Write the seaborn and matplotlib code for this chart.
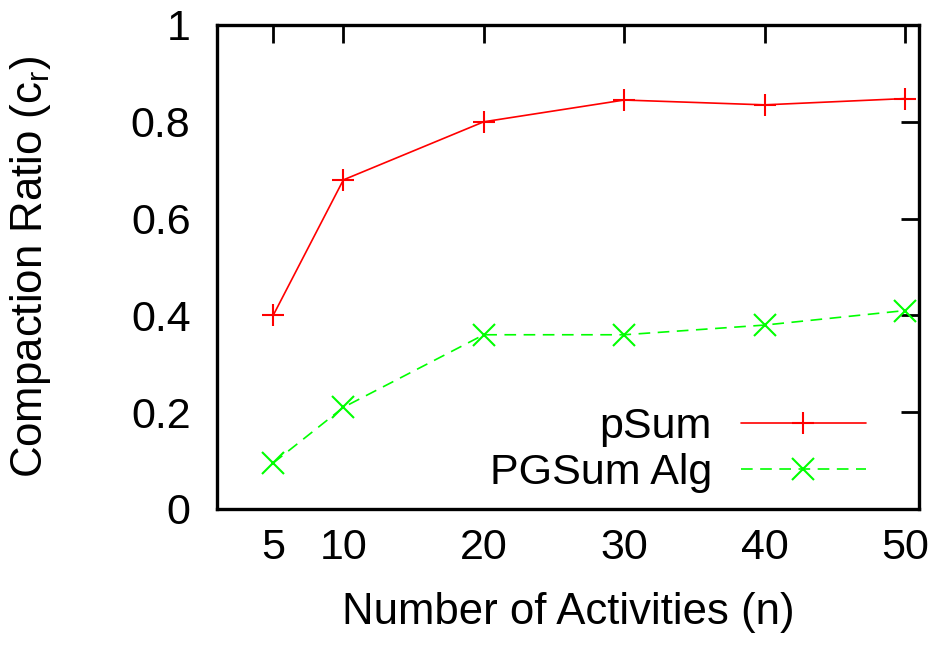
import matplotlib
matplotlib.use("Agg")
import matplotlib.pyplot as plt
import seaborn as sns
import pandas as pd

# Number of activities and the compaction ratio reached by each summariser
activities = [5, 10, 20, 30, 40, 50]
psum_ratio = [0.40, 0.68, 0.80, 0.845, 0.835, 0.848]
pgsum_ratio = [0.095, 0.21, 0.36, 0.36, 0.38, 0.41]
series_names = ["pSum", "PGSum Alg"]
x_ticks = [5, 10, 20, 30, 40, 50]
y_ticks = [0, 0.2, 0.4, 0.6, 0.8, 1.0]
y_tick_labels = ["0", "0.2", "0.4", "0.6", "0.8", "1"]

psum_df = pd.DataFrame({"n": activities, "ratio": psum_ratio})
pgsum_df = pd.DataFrame({"n": activities, "ratio": pgsum_ratio})

sns.set_theme(style="white")
plt.rcParams["font.family"] = ["Liberation Sans", "DejaVu Sans"]
plt.rcParams["text.color"] = "black"
plt.rcParams["mathtext.fontset"] = "custom"
plt.rcParams["mathtext.rm"] = "Liberation Sans"
plt.rcParams["mathtext.it"] = "Liberation Sans"
plt.rcParams["mathtext.default"] = "regular"

FS = 31
MS = 16.5
LW = 1.2

fig = plt.figure(figsize=(9.40, 6.47), dpi=100)
ax = fig.add_axes([217 / 940, 1 - 509 / 647, (919 - 217) / 940, (509 - 25) / 647])

sns.lineplot(data=psum_df, x="n", y="ratio", color="#ff0000", marker="+",
             markersize=MS, markeredgewidth=1.5, markeredgecolor="#ff0000",
             linewidth=LW, linestyle="-", label=series_names[0], ax=ax)
sns.lineplot(data=pgsum_df, x="n", y="ratio", color="#00ff00", marker="x",
             markersize=MS, markeredgewidth=1.5, markeredgecolor="#00ff00",
             linewidth=LW, dashes=(7, 4.5), label=series_names[1], ax=ax)

ax.set_xlim(1, 51)
ax.set_ylim(0, 1)
ax.set_xticks(x_ticks)
ax.set_xticklabels([str(v) for v in x_ticks])
ax.set_yticks(y_ticks)
ax.set_yticklabels(y_tick_labels)

for side in ["left", "right", "top", "bottom"]:
    ax.spines[side].set_visible(True)
    ax.spines[side].set_linewidth(2.4)
    ax.spines[side].set_color("black")

ax.tick_params(axis="both", which="major", direction="in", length=13, width=2,
               color="black", labelsize=FS, labelcolor="black",
               top=True, right=True)
ax.tick_params(axis="x", pad=14)
ax.tick_params(axis="y", pad=19)

ax.set_xlabel("Number of Activities (n)", fontsize=FS + 0.5, color="black")
ax.set_ylabel("Compaction Ratio (c$_{r}$)", fontsize=FS + 0.5, color="black")
ax.xaxis.set_label_coords(0.5, (509 - 592) / 484)
ax.yaxis.set_label_coords((53 - 217) / 702, 0.5)

handles, labels = ax.get_legend_handles_labels()
leg = ax.legend(
    handles, labels, loc="lower right", bbox_to_anchor=(0.924, 0.033),
    frameon=False, markerfirst=False, fontsize=FS, handlelength=2.9,
    handletextpad=0.67, labelspacing=0.14, borderpad=0, borderaxespad=0,
    numpoints=1,
)
for text in leg.get_texts():
    text.set_color("black")
for line in leg.get_lines():
    line.set_markersize(MS)
    line.set_linewidth(LW)

fig.savefig("out.png", dpi=100)
